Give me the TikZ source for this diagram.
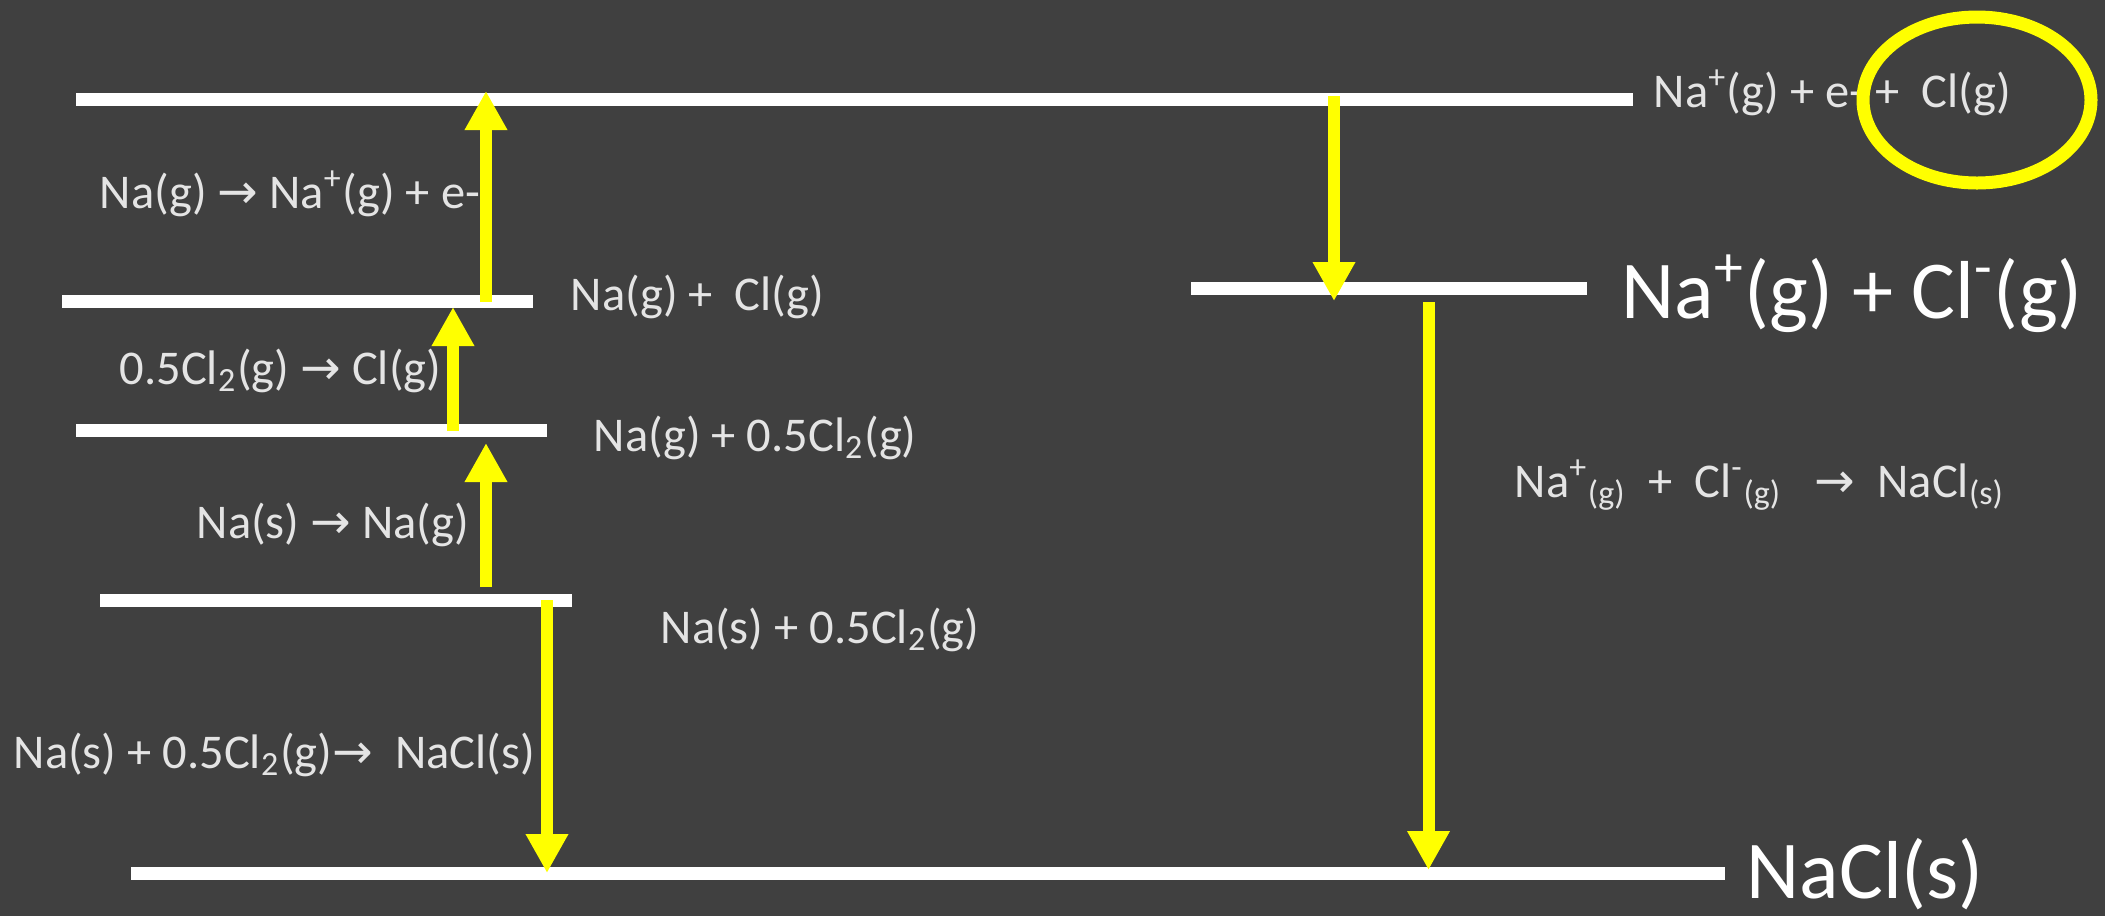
\documentclass[tikz,border=0pt]{standalone}
\usepackage{fontspec}
\setmainfont{Carlito}
\newfontfamily\arrowfont{DejaVu Sans}
\usetikzlibrary{arrows.meta}
\definecolor{slidebg}{RGB}{64,64,64}
\definecolor{slidetext}{RGB}{228,228,228}
\definecolor{slideyellow}{RGB}{255,255,0}
\newcommand{\yields}{{\arrowfont\char"2192}}

\begin{document}
\begin{tikzpicture}[x=0.1mm,y=-0.1mm,
  level/.style={white,line width=1.3mm},
  jump/.style={slideyellow,line width=1.2mm,-{Triangle[width=4mm,length=3.9mm]}},
  lbl/.style={anchor=base west,inner sep=0,text=slidetext,font=\fontsize{13.8}{16}\selectfont},
  biglbl/.style={anchor=base west,inner sep=0,text=white,font=\fontsize{23.4}{28}\selectfont}]
\useasboundingbox (0,0) rectangle (2105,916);
\fill[slidebg] (0,0) rectangle (2105,916);
% energy levels
\coordinate (ionL) at (76,99.5);   \coordinate (ionR) at (1633,99.5);
\coordinate (atomL) at (62,301.5); \coordinate (atomR) at (533,301.5);
\coordinate (gasL) at (76,430.5);  \coordinate (gasR) at (547,430.5);
\coordinate (elemL) at (100,600);  \coordinate (elemR) at (572,600);
\coordinate (saltL) at (131,873);  \coordinate (saltR) at (1725,873);
\coordinate (pairL) at (1191,288.5); \coordinate (pairR) at (1587,288.5);
\draw[level] (ionL) -- (ionR);
\draw[level] (atomL) -- (atomR);
\draw[level] (gasL) -- (gasR);
\draw[level] (elemL) -- (elemR);
\draw[level] (saltL) -- (saltR);
\draw[level] (pairL) -- (pairR);
% arrow ends
\coordinate (ie0) at (486,302);  \coordinate (ie1) at (486,91);
\coordinate (at0) at (453,431);  \coordinate (at1) at (453,307);
\coordinate (sb0) at (486,587);  \coordinate (sb1) at (486,443);
\coordinate (hf0) at (547,600);  \coordinate (hf1) at (547,873);
\coordinate (ea0) at (1334,96);  \coordinate (ea1) at (1334,301);
\coordinate (le0) at (1428.5,302); \coordinate (le1) at (1428.5,870);
\draw[jump] (ie0) -- (ie1);
\draw[jump] (at0) -- (at1);
\draw[jump] (sb0) -- (sb1);
\draw[jump] (hf0) -- (hf1);
\draw[jump] (ea0) -- (ea1);
\draw[jump] (le0) -- (le1);
% left steps
\node[lbl] (ieLbl) at (99,208) {Na(g) \yields\ Na\textsuperscript{+}(g) + e-};
\node[lbl] (atomLbl) at (570,310) {Na(g) + \ Cl(g)};
\node[lbl] (atLbl) at (119,384) {0.5Cl\textsubscript{2}(g) \yields\ Cl(g)};
\node[lbl] (gasLbl) at (593,451) {Na(g) + 0.5Cl\textsubscript{2}(g)};
\node[lbl] (sbLbl) at (196,538) {Na(s) \yields\ Na(g)};
\node[lbl] (elemLbl) at (660,643) {Na(s) + 0.5Cl\textsubscript{2}(g)};
\node[lbl] (hfLbl) at (13,768) {Na(s) + 0.5Cl\textsubscript{2}(g)\yields\ \ NaCl(s)};
% right side
\node[lbl] (ionLbl) at (1653,107) {Na\textsuperscript{+}(g) + e- + \ Cl(g)};
\draw[slideyellow,line width=1.3mm] (1977,100) ellipse [x radius=114, y radius=83];
\node[biglbl] (pairLbl) at (1621,318) {Na\textsuperscript{+}(g) + Cl\textsuperscript{-}(g)};
\node[lbl] (leLbl) at (1514,497) {Na\textsuperscript{+}\textsubscript{(g)} \ + \ Cl\textsuperscript{-}\textsubscript{(g)} \ \ \yields\ \ NaCl\textsubscript{(s)}};
\node[biglbl] (saltLbl) at (1746,898) {NaCl(s)};
\end{tikzpicture}
\end{document}
